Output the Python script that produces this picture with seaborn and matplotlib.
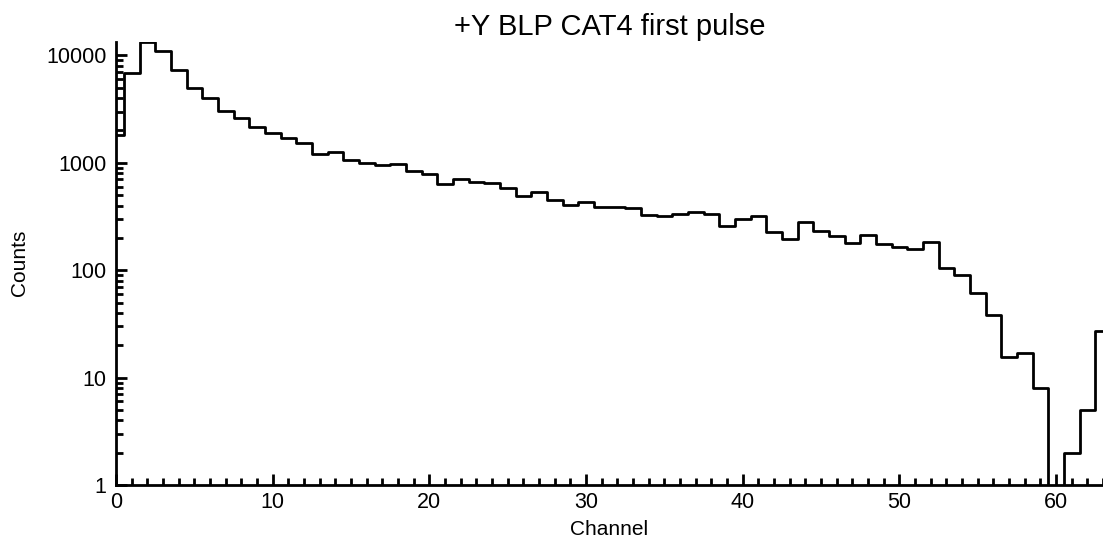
import matplotlib
matplotlib.use("Agg")
import matplotlib.pyplot as plt
import matplotlib.ticker as mticker
import numpy as np
import pandas as pd
import seaborn as sns

# Channel numbers and counts
channels = list(range(64))
counts = [1800, 6900, 13300, 11000, 7350, 5000, 4000, 3030, 2625, 2165,
          1877, 1687, 1517, 1213, 1268, 1052, 986, 946, 973, 837,
          785, 640, 700, 666, 647, 578, 487, 530, 450, 404,
          430, 385, 387, 376, 328, 317, 335, 350, 333, 259,
          297, 318, 226, 196, 284, 234, 209, 178, 212, 174,
          164, 156, 185, 104, 90, 61, 38, 15.6, 16.8, 8,
          0, 2, 5, 27]
x_ticks = [0, 10, 20, 30, 40, 50, 60]
y_ticks = [1, 10, 100, 1000, 10000]

df = pd.DataFrame({'channel': channels, 'counts': counts})

sns.set_style('ticks')
plt.rcParams['font.family'] = ['Liberation Sans', 'DejaVu Sans']
plt.rcParams['text.color'] = 'black'
plt.rcParams['axes.labelcolor'] = 'black'

fig = plt.figure(figsize=(11.03, 5.40), dpi=100)
ax = fig.add_axes([0.1052, 0.1019, 0.8948, 0.8211])

sns.histplot(data=df, x='channel', weights='counts', discrete=True,
             element='step', fill=False, color='black', linewidth=2, ax=ax)

ax.set_yscale('log')
ax.set_xlim(0, 63)
ax.set_ylim(1, 13460)

ax.set_xticks(x_ticks)
ax.xaxis.set_minor_locator(mticker.MultipleLocator(1))
ax.set_yticks(y_ticks)
ax.yaxis.set_major_formatter(mticker.FuncFormatter(lambda v, p: f"{v:g}"))
ax.yaxis.set_minor_locator(mticker.LogLocator(base=10, subs=np.arange(2, 10)))
ax.yaxis.set_minor_formatter(mticker.NullFormatter())

ax.tick_params(which='major', direction='in', length=8, width=2, labelsize=15.5, colors='black')
ax.tick_params(which='minor', direction='in', length=5, width=2, colors='black')
ax.tick_params(axis='x', which='major', pad=5)
ax.tick_params(axis='y', which='major', pad=7)
sns.despine(ax=ax)
for s in ['left', 'bottom']:
    ax.spines[s].set_linewidth(2)
    ax.spines[s].set_color('black')

ax.set_title('+Y BLP CAT4 first pulse', fontsize=21, pad=5, color='black')
ax.set_xlabel('Channel', fontsize=15)
ax.set_ylabel('Counts', fontsize=15)
ax.xaxis.set_label_coords(0.5, -0.079)
ax.yaxis.set_label_coords(-0.088, 0.5)

fig.savefig('out.png', dpi=100)
